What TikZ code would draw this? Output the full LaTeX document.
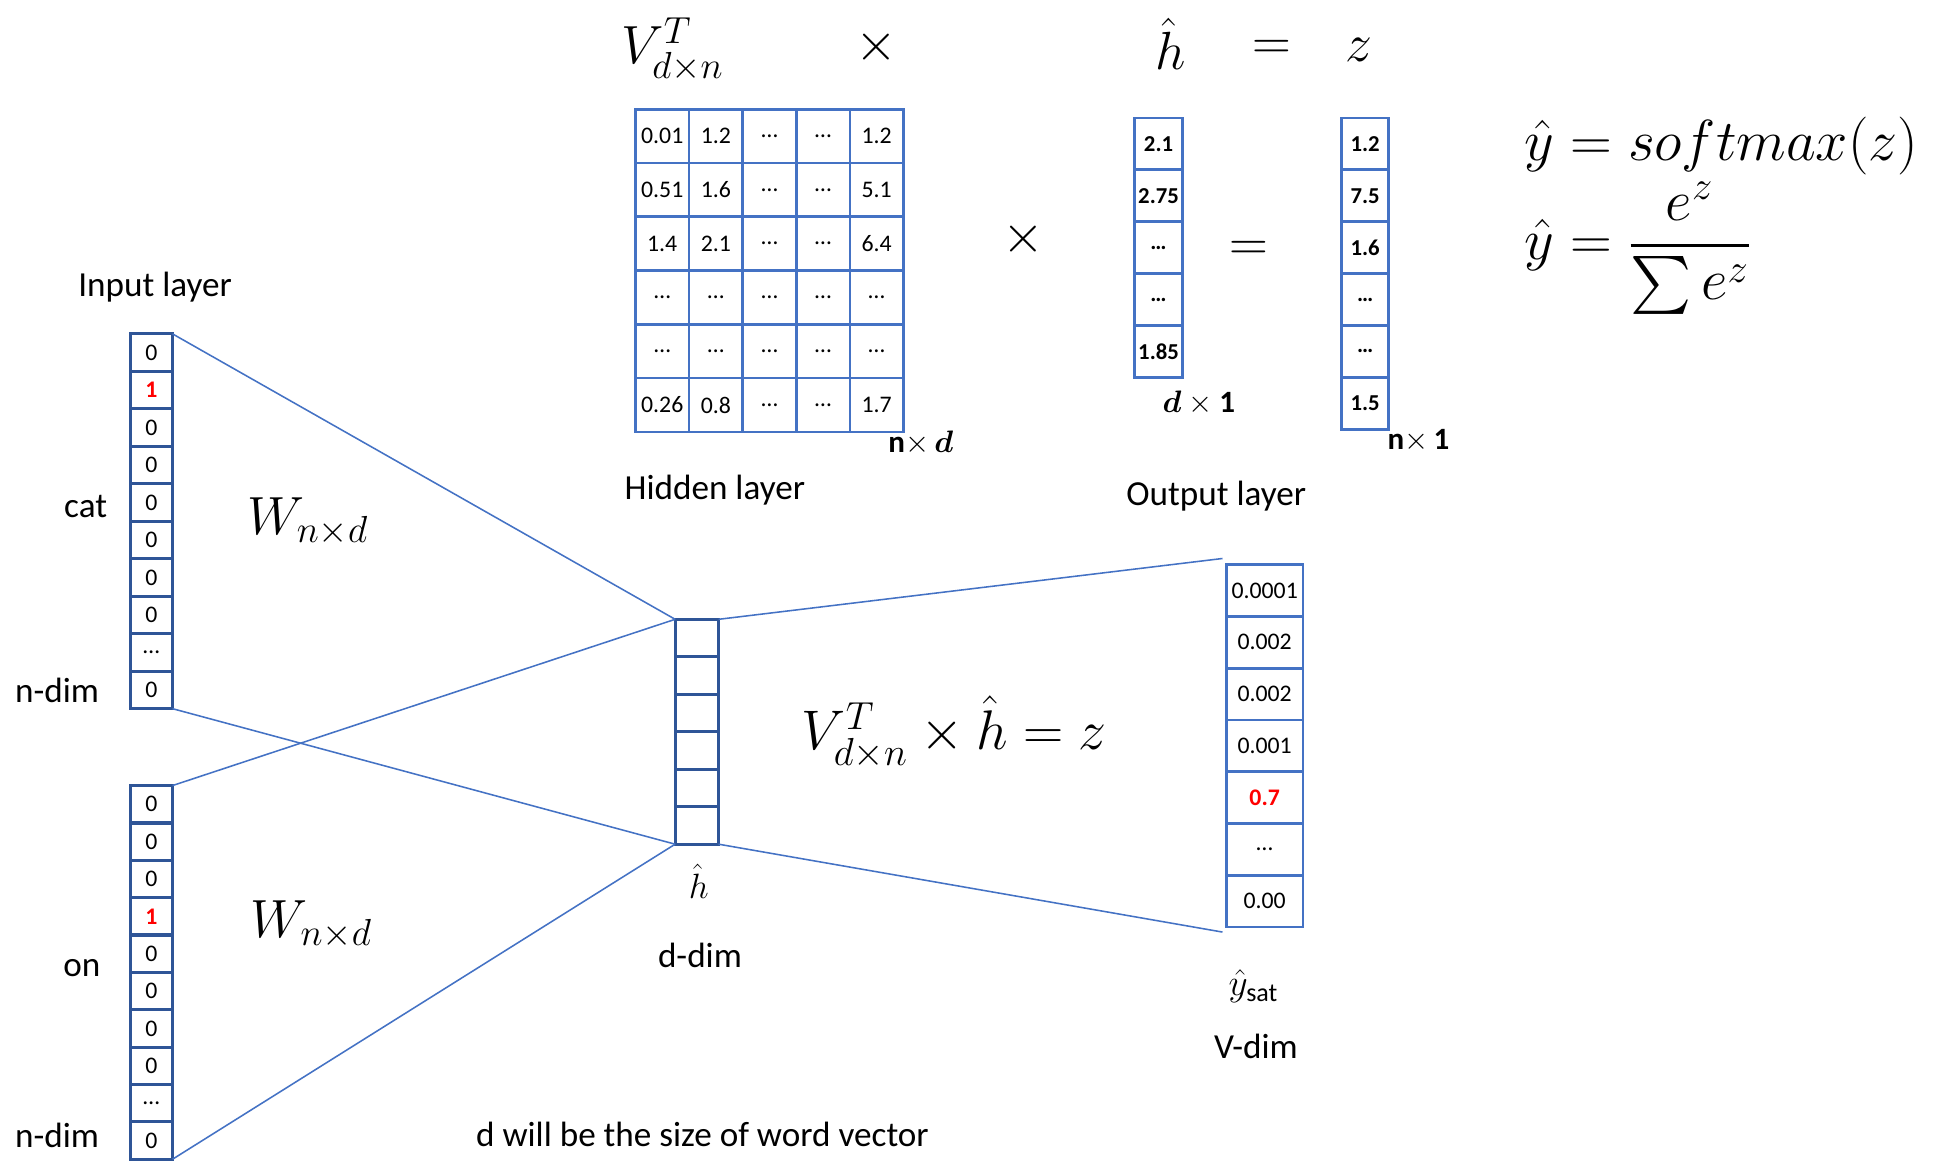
\RequirePackage{fix-cm}
\documentclass[tikz,border=0pt]{standalone}
\usepackage{amsmath,amssymb,bm}
\usepackage{fontspec}
\setmainfont{Carlito}
\definecolor{lblue}{HTML}{4472C4}
\definecolor{dblue}{HTML}{2F5597}
\newcommand{\hotval}[1]{\textcolor{red}{\textbf{#1}}}
\begin{document}
\begin{tikzpicture}[x=0.6pt,y=-0.6pt,
  conn/.style={draw=lblue, line width=0.75pt},
  cellbase/.style={inner sep=0pt, outer sep=0pt, font=\fontsize{11.5}{13}\selectfont},
  vcell/.style={cellbase, draw=dblue, line width=1.5pt, minimum width=20.4pt, minimum height=18.12pt},
  hidcell/.style={cellbase, draw=dblue, line width=1.5pt, minimum width=21pt, minimum height=18.12pt},
  mcell/.style={cellbase, draw=lblue, line width=1.3pt, minimum width=25.92pt, minimum height=26pt},
  hcell/.style={cellbase, draw=lblue, line width=1.3pt, minimum width=23.4pt, minimum height=25.08pt, font=\fontsize{11}{13}\selectfont\bfseries},
  zcell/.style={hcell, minimum width=22.8pt},
  ocell/.style={cellbase, draw=lblue, line width=1.3pt, minimum width=37.2pt, minimum height=25.02pt},
  lab/.style={inner sep=0pt, font=\fontsize{17}{20}\selectfont},
  bigm/.style={inner sep=0pt, font=\fontsize{26}{30}\selectfont},
  midm/.style={inner sep=0pt, font=\fontsize{15}{18}\selectfont},
]
\useasboundingbox (0,0) rectangle (1568,941);

% ---------- top equation header ----------
\node[bigm] (hV) at (542,40) {$V^{T}_{d\times n}$};
\node[bigm] (hx) at (706,38) {$\times$};
\node[bigm] (hh) at (943,35) {$\hat{h}$};
\node[bigm] (he) at (1025,40) {$=$};
\node[bigm] (hz) at (1095,40) {$z$};

% ---------- matrix V^T ----------
\foreach \row [count=\r] in {{0.01,1.2,…,…,1.2},{0.51,1.6,…,…,5.1},{1.4,2.1,…,…,6.4},{…,…,…,…,…},{…,…,…,…,…},{0.26,0.8,…,…,1.7}}
  \foreach \v [count=\c] in \row
    \node[mcell] (m\r-\c) at ({512+(\c-0.5)*43.2},{88+(\r-0.5)*43.33}) {\v};
\node[midm] (mlab) at (742,357) {\textbf{n}$\times\,\boldsymbol{d}$};
\node[lab] (hidlab) at (576,395) {Hidden layer};

\node[bigm] (mx) at (825,193) {$\times$};

% ---------- h vector ----------
\foreach \v [count=\i] in {2.1,2.75,…,…,1.85}
  \node[hcell] (hv\i) at (933.5,{95+(\i-0.5)*41.8}) {\v};
\node[midm] (hvlab) at (966,325) {$\boldsymbol{d}\times\mathbf{1}$};

\node[bigm] (meq) at (1006,202) {$=$};

% ---------- z vector ----------
\foreach \v [count=\i] in {1.2,7.5,1.6,…,…,1.5}
  \node[zcell] (zv\i) at (1100,{95+(\i-0.5)*41.8}) {\v};
\node[midm] (zlab) at (1143,355) {\textbf{n}$\times\,\mathbf{1}$};
\node[lab] (outlab) at (980,400) {Output layer};

% ---------- softmax ----------
\node[inner sep=0pt, anchor=west, font=\fontsize{28}{32}\selectfont] (sm1) at (1228,118) {$\hat{y}=softmax(z)$};
\node[inner sep=0pt, anchor=west, font=\fontsize{28}{32}\selectfont] (sm2) at (1228,200) {$\hat{y}=\dfrac{e^{z}}{\sum e^{z}}$};

% ---------- input vectors ----------
\node[lab] (inlab) at (125,231) {Input layer};
\foreach \v [count=\i] in {0,\hotval{1},0,0,0,0,0,0,…,0}
  \node[vcell] (c\i) at (122,{269+(\i-0.5)*30.2}) {\v};
\node[lab] (catlab) at (69,408) {cat};
\node[lab] (nd1) at (46,556) {n-dim};
\node[bigm] (w1) at (248,420) {$W_{n\times d}$};

\foreach \v [count=\i] in {0,0,0,\hotval{1},0,0,0,0,…,0}
  \node[vcell] (o\i) at (122,{633+(\i-0.5)*30.1}) {\v};
\node[lab] (onlab) at (66,780) {on};
\node[lab] (nd2) at (46,915) {n-dim};
\node[bigm] (w2) at (251,745) {$W_{n\times d}$};

% ---------- hidden vector ----------
\foreach \i in {1,...,6}
  \node[hidcell] (h\i) at (561.5,{499+(\i-0.5)*30.2}) {};
\node[inner sep=0pt, font=\fontsize{17}{20}\selectfont] (hhat) at (563,710) {$\hat{h}$};
\node[lab] (ddim) at (564,770) {d-dim};

% ---------- output vector ----------
\foreach \v [count=\i] in {0.0001,0.002,0.002,0.001,\hotval{0.7},…,0.00}
  \node[ocell] (y\i) at (1019,{455+(\i-0.5)*41.7}) {\v};
\node[inner sep=0pt, font=\fontsize{18}{21}\selectfont] (ysat) at (1010,795) {$\hat{y}_{\text{sat}}$};
\node[lab] (vdim) at (1012,843) {V-dim};

\node[inner sep=0pt, font=\fontsize{27}{31}\selectfont] (midf) at (769,590) {$V^{T}_{d\times n}\times\hat{h}=z$};
\node[lab] (note) at (566,914) {d will be the size of word vector};

% ---------- connectors ----------
\coordinate (ytop) at (985,450);
\coordinate (ybot) at (985,751);
\draw[conn] (c1.north east) -- (h1.north west);
\draw[conn] (c10.south east) -- (h6.south west);
\draw[conn] (o1.north east) -- (h1.north west);
\draw[conn] (o10.south east) -- (h6.south west);
\draw[conn] (h1.north east) -- (ytop);
\draw[conn] (h6.south east) -- (ybot);
\end{tikzpicture}
\end{document}
